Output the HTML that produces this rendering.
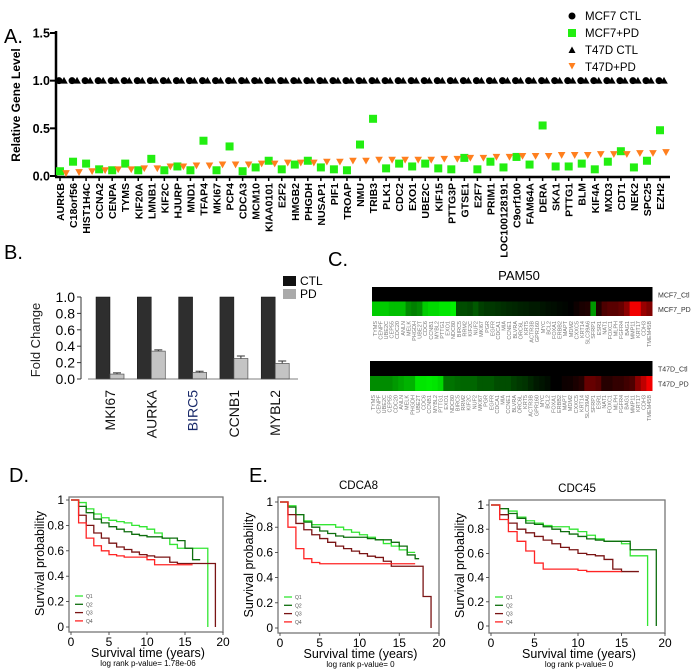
<!DOCTYPE html>
<html><head><meta charset="utf-8">
<style>
html,body{margin:0;padding:0;background:#fff;}
svg{display:block;font-family:"Liberation Sans",Arial,sans-serif;}
</style></head>
<body>
<svg id="fig" width="700" height="671" viewBox="0 0 700 671" xmlns="http://www.w3.org/2000/svg">
<g id="pA"></g>
<g id="pB"></g>
<g id="pC"></g>
<g id="pD"></g>
<g id="pE"></g>
</svg>
<script>
// ---------- Panel A data ----------
const genesA = ["AURKB","C18orf56","HIST1H4C","CCNA2","CENPA","TYMS","KIF20A","LMNB1","KIF2C","HJURP","MND1","TFAP4","MKI67","PCP4","CDCA3","MCM10","KIAA0101","E2F2","HMGB2","PHGDH","NUSAP1","PIF1","TROAP","NMU","TRIB3","PLK1","CDC2","EXO1","UBE2C","KIF15","PTTG3P","GTSE1","E2F7","PRIM1","LOC100128191","C9orf100","FAM64A","DERA","SKA1","PTTG1","BLM","KIF4A","MXD3","CDT1","NEK2","SPC25","EZH2"];
const mcf7Ctl = genesA.map(()=>1.0);
const t47dCtl = genesA.map(()=>1.0);
const mcf7PD = [.05,.15,.13,.07,.06,.13,.06,.18,.06,.10,.06,.37,.06,.31,.05,.09,.16,.07,.12,.16,.09,.07,.06,.33,.60,.08,.13,.10,.13,.08,.07,.19,.07,.15,.09,.20,.12,.53,.10,.10,.13,.07,.15,.26,.09,.16,.48];
const t47dPD = [.03,.04,.05,.06,.07,.07,.08,.08,.10,.10,.11,.11,.12,.12,.12,.13,.13,.14,.14,.14,.15,.15,.16,.16,.17,.17,.17,.17,.17,.18,.18,.19,.19,.20,.20,.21,.21,.21,.22,.22,.22,.23,.23,.23,.24,.24,.25];
const ticksA = [0.0,0.5,1.0,1.5];
// ---------- Panel B data ----------
const genesB = ["MKI67","AURKA","BIRC5","CCNB1","MYBL2"];
const ctlB = [1,1,1,1,1];
const pdB = [0.06,0.34,0.08,0.25,0.19];
const errB = [0.015,0.015,0.015,0.03,0.03];
const ticksB = [0.0,0.2,0.4,0.6,0.8,1.0];
// ---------- Panel C data ----------
const pam50 = ["TYMS","CENPF","UBE2C","CEP55","CDC20","ANLN","MELK","PHGDH","UBE2T","CDC6","CCNB1","MYBL2","PTTG1","EXO1","NDC80","BIRC5","RRM2","KIF2C","NUF2","MKI67","PGR","EGFR","CDCA1","MIA","CCNE1","BLVRA","ORC6L","KRT5","ACTR3B","GPR160","MYC","BCL2","FOXA1","ERBB2","MAPT","MDM2","CXXC5","KRT14","SLC39A6","SFRP1","ESR1","NAT1","FOXC1","MLPH","FGFR4","BAG1","MMP11","KRT17","CDH3","TMEM45B"];
const mcf7CtlHeat = pam50.map(()=>0);
const mcf7PDHeat = [-.8,-.8,-.8,-.75,-.75,-.75,-.55,-.5,-.55,-.8,-.85,-.85,-.9,-.9,-.95,-.3,-.3,-.28,-.35,-.25,-.22,-.22,-.2,-.18,-.16,-.15,-.13,-.12,-.1,-.1,-.08,-.06,-.05,-.03,-.02,0,.05,.1,.12,-.6,.12,.3,.35,.35,.4,.55,.95,.95,.6,.5];
const t47dCtlHeat = pam50.map(()=>0);
const t47dPDHeat = [-.55,-.55,-.55,-.55,-.6,-.65,-.7,-.7,-.9,-.9,-.92,-.9,-.85,-.45,-.45,-.42,-.4,-.4,-.4,-.35,-.35,-.35,-.3,-.3,-.3,-.25,-.22,-.2,-.15,-.1,-.08,-.05,0,0,.05,.06,.1,.15,.4,.4,.35,.15,.15,.2,.2,.25,.3,.55,.75,.95];
// ---------- Survival data ----------
const survTicksY = [0,0.2,0.4,0.6,0.8,1];
const survTicksX = [0,5,10,15,20];
const dQ1t=[0,1,2,3,4,5,6,7,8,9,10,11,12,13,14,15,16,17,18,18];
const dQ1s=[1,.98,.93,.89,.86,.84,.83,.82,.80,.79,.77,.74,.70,.65,.62,.62,.62,.62,.62,0];
const dQ2t=[0,1,2,3,4,5,6,7,8,9,10,11,12,13,14,15,16,17];
const dQ2s=[1,.95,.90,.85,.82,.79,.77,.75,.73,.72,.71,.71,.70,.70,.68,.62,.53,.53];
const dQ3t=[0,1,2,3,4,5,6,7,8,9,10,11,12,13,14,15,16,17,18,19,19];
const dQ3s=[1,.88,.80,.74,.70,.66,.63,.61,.59,.57,.56,.55,.55,.51,.50,.50,.50,.50,.50,.50,0];
const dQ4t=[0,1,2,3,4,5,6,7,8,9,10,11,12,13,14,15,16];
const dQ4s=[1,.82,.70,.64,.60,.57,.56,.55,.55,.55,.53,.49,.49,.49,.49,.49,.49];
const aQ1t=[0,1,2,3,4,5,6,7,8,9,10,11,12,13,14,15,16,17];
const aQ1s=[1,.97,.90,.85,.82,.82,.82,.80,.78,.76,.74,.72,.70,.67,.65,.62,.60,.60];
const aQ2t=[0,1,2,3,4,5,6,7,8,9,10,11,12,13,14,15,16,17,17.5];
const aQ2s=[1,.96,.90,.84,.80,.77,.75,.73,.72,.72,.72,.71,.70,.70,.68,.65,.58,.55,.55];
const aQ3t=[0,1,2,3,4,5,6,7,8,9,10,11,12,13,14,15,16,17,18,19,19];
const aQ3s=[1,.90,.83,.78,.74,.71,.68,.65,.63,.61,.59,.57,.56,.53,.49,.49,.49,.49,.25,.25,0];
const aQ4t=[0,1,2,3,4,5,6,7,8,9,10,11,12,13,14,15,16,17];
const aQ4s=[1,.80,.63,.55,.52,.51,.51,.51,.51,.51,.51,.51,.51,.51,.51,.51,.51,.51];
const bQ1t=[0,1,2,3,4,5,6,7,8,9,10,11,12,13,14,15,16,17,18,18];
const bQ1s=[1,.97,.95,.90,.87,.85,.83,.82,.82,.80,.78,.75,.72,.70,.70,.68,.58,.58,.58,0];
const bQ2t=[0,1,2,3,4,5,6,7,8,9,10,11,12,13,14,15,16,17,18,19,19];
const bQ2s=[1,.97,.93,.89,.85,.84,.82,.80,.78,.76,.74,.72,.71,.70,.70,.70,.63,.63,.63,.63,0];
const bQ3t=[0,1,2,3,4,5,6,7,8,9,10,11,12,13,14,15,16,17];
const bQ3s=[1,.92,.85,.80,.77,.74,.71,.68,.65,.63,.60,.59,.58,.55,.47,.45,.45,.45];
const bQ4t=[0,1,2,3,4,5,6,7,8,9,10,11,12,13,14,15];
const bQ4s=[1,.88,.78,.70,.62,.52,.47,.47,.47,.47,.46,.45,.45,.45,.45,.45];

const NS="http://www.w3.org/2000/svg";
function mk(parent, tag, attrs, text){
  const e=document.createElementNS(NS,tag);
  for(const k in attrs) e.setAttribute(k,attrs[k]);
  if(text!==undefined) e.textContent=text;
  parent.appendChild(e); return e;
}
function label(parent, name, x, y, txt, extra){
  const t=mk(parent,'text',Object.assign({x:x,y:y},extra||{}),txt);
  
  
  return t;
}

// ================= Panel A =================
(function(){
  const g=document.getElementById('pA');
  const x0=60, step=(660-60)/(genesA.length-1);
  const X=i=>x0+i*step;
  const Y=v=>176-v*(176-33)/1.5;
  label(g,'panel-a-letter',4,43,'A.',{'font-size':20});
  const ax=mk(g,'line',{x1:56,y1:31,x2:56,y2:177,stroke:'#000','stroke-width':2.5});
   
  const bx=mk(g,'line',{x1:55,y1:177,x2:670,y2:177,stroke:'#000','stroke-width':2.5});
   
  ticksA.forEach(v=>{
    const tk=mk(g,'line',{x1:50,y1:Y(v),x2:56,y2:Y(v),stroke:'#000','stroke-width':2});
     
    label(g,'y-tick-label',50,Y(v)+4.5,v.toFixed(1),{'font-size':12.5,'font-weight':'bold','text-anchor':'end'});
  });
  label(g,'y-axis-title',0,0,'Relative Gene Level',{'font-size':12,'font-weight':'bold','text-anchor':'middle',transform:'translate(20,105) rotate(-90)'});
  genesA.forEach((gn,i)=>{
    const tk=mk(g,'line',{x1:X(i),y1:177,x2:X(i),y2:181,stroke:'#000','stroke-width':1.5});
     
    label(g,'gene-label',0,0,gn,{'font-size':10.5,'font-weight':'bold','text-anchor':'end',transform:`translate(${X(i)+4},183) rotate(-90)`});
  });
  mcf7Ctl.forEach((v,i)=>{
    const c=mk(g,'circle',{cx:X(i)-1,cy:Y(v),r:3.5,fill:'#000'});
     
  });
  t47dCtl.forEach((v,i)=>{
    const x=X(i)+4,y=Y(v);
    const p=mk(g,'polygon',{points:`${x-3.8},${y+3} ${x+3.8},${y+3} ${x},${y-3.8}`,fill:'#000'});
     
  });
  mcf7PD.forEach((v,i)=>{
    const r=mk(g,'rect',{x:X(i)-4,y:Y(v)-4,width:8,height:8,fill:'#22ee11'});
     
  });
  t47dPD.forEach((v,i)=>{
    const x=X(i)+6,y=Y(v);
    const p=mk(g,'polygon',{points:`${x-3.8},${y-3} ${x+3.8},${y-3} ${x},${y+3.8}`,fill:'#ff7f1e'});
     
  });
  const lg=mk(g,'g',{});
   
  let c=mk(lg,'circle',{cx:572,cy:16,r:3.5,fill:'#000'});  
  label(lg,'legend-mcf7-ctl',585,20,'MCF7 CTL',{'font-size':11.5});
  c=mk(lg,'rect',{x:568,y:29,width:8,height:8,fill:'#22ee11'});  
  label(lg,'legend-mcf7-pd',585,37,'MCF7+PD',{'font-size':11.5});
  c=mk(lg,'polygon',{points:'568.5,53 575.5,53 572,46.5',fill:'#000'});  
  label(lg,'legend-t47d-ctl',585,54,'T47D CTL',{'font-size':11.5});
  c=mk(lg,'polygon',{points:'568.5,63 575.5,63 572,69.5',fill:'#ff7f1e'});  
  label(lg,'legend-t47d-pd',585,71,'T47D+PD',{'font-size':11.5});
})();

// ================= Panel B =================
(function(){
  const g=document.getElementById('pB');
  const Y=v=>379-v*(379-297);
  const gx=i=>96+i*41.3;
  label(g,'panel-b-letter',4,259,'B.',{'font-size':20});
  const ax=mk(g,'line',{x1:81,y1:Y(1),x2:81,y2:Y(0),stroke:'#333','stroke-width':1});
   
  ticksB.forEach(v=>{
    const tk=mk(g,'line',{x1:77,y1:Y(v),x2:81,y2:Y(v),stroke:'#333','stroke-width':1});
     
    label(g,'y-tick-label',75,Y(v)+5,v.toFixed(1),{'font-size':14,'text-anchor':'end'});
  });
  label(g,'y-axis-title',0,0,'Fold Change',{'font-size':13,'text-anchor':'middle',fill:'#222',transform:'translate(40,340) rotate(-90)'});
  genesB.forEach((gn,i)=>{
    const x=gx(i);
    const b=mk(g,'rect',{x:x,y:Y(ctlB[i]),width:14,height:Y(0)-Y(ctlB[i]),fill:'#2e2e2e',stroke:'#111','stroke-width':0.5});
     
    const p=mk(g,'rect',{x:x+14,y:Y(pdB[i]),width:14,height:Y(0)-Y(pdB[i]),fill:'#c4c4c4',stroke:'#555','stroke-width':0.7});
     
    const ex=x+21, et=Y(pdB[i]+errB[i]);
    const e=mk(g,'path',{d:`M${ex},${Y(pdB[i])}V${et}M${ex-4},${et}H${ex+4}`,stroke:'#333','stroke-width':1,fill:'none'});
     
    label(g,'x-tick-label',0,0,gn,{'font-size':14,'text-anchor':'end',fill:i==2?'#1a2a6a':'#111',transform:`translate(${x+19},390) rotate(-90)`});
  });
  const bl=mk(g,'line',{x1:88,y1:Y(0),x2:298,y2:Y(0),stroke:'#555','stroke-width':0.7});
   
  let r=mk(g,'rect',{x:283,y:276,width:13,height:10,fill:'#111'});  
  label(g,'legend-ctl',300,285,'CTL',{'font-size':12});
  r=mk(g,'rect',{x:283,y:289,width:13,height:10,fill:'#aaa'});  
  label(g,'legend-pd',300,298,'PD',{'font-size':12});
})();

// ================= Panel C =================
(function(){
  const g=document.getElementById('pC');
  label(g,'panel-c-letter',328,266,'C.',{'font-size':20});
  label(g,'heatmap-title',519,280,'PAM50',{'font-size':13,'text-anchor':'middle'});
  function col(v){
    if(v<0) return `rgb(0,${Math.round(-v*255)},0)`;
    return `rgb(${Math.round(v*255)},0,0)`;
  }
  function heat(rows,names,x0,x1,y0,rh,lblY){
    const cw=(x1-x0)/pam50.length;
    rows.forEach((row,ri)=>{
      row.forEach((v,ci)=>{
        const c=mk(g,'rect',{x:x0+ci*cw,y:y0+ri*rh,width:cw+0.5,height:rh,fill:col(v)});
         
      });
      label(g,'heatmap-row-label',x1+6,y0+ri*rh+rh/2+3,names[ri],{'font-size':7,fill:'#333'});
    });
    pam50.forEach((gn,ci)=>{
      label(g,'heatmap-gene-label',0,0,gn,{'font-size':5.5,fill:'#777','text-anchor':'end',transform:`translate(${x0+ci*cw+cw/2+2},${lblY}) rotate(-90)`});
    });
  }
  heat([mcf7CtlHeat,mcf7PDHeat],['MCF7_Ctl','MCF7_PD'],372,652,287,14.5,321);
  heat([t47dCtlHeat,t47dPDHeat],['T47D_Ctl','T47D_PD'],370,652,361,15,395);
})();

// ================= Survival panels =================
function survPlot(g, name, box, axX, axY, curves, title, pText){
  const [x0,x20,y1,y0]=[axX[0],axX[1],axY[0],axY[1]];
  const X=t=>x0+t*(x20-x0)/20;
  const Y=s=>y0-s*(y0-y1);
  const fr=mk(g,'rect',{x:box[0],y:box[1],width:box[2]-box[0],height:box[3]-box[1],fill:'none',stroke:'#777','stroke-width':1.3});
   
  if(title) label(g,name+'-title',(box[0]+box[2])/2,title[1],title[0],{'font-size':11.5,'text-anchor':'middle'});
  survTicksY.forEach(v=>{
    const tk=mk(g,'line',{x1:box[0]-3,y1:Y(v),x2:box[0],y2:Y(v),stroke:'#333','stroke-width':0.8});
     
    label(g,'y-tick-label',box[0]-5,Y(v)+4,String(v),{'font-size':12,'text-anchor':'end'});
  });
  survTicksX.forEach(v=>{
    const tk=mk(g,'line',{x1:X(v),y1:box[3],x2:X(v),y2:box[3]+3,stroke:'#333','stroke-width':0.8});
     
    label(g,'x-tick-label',X(v),box[3]+14,String(v),{'font-size':12,'text-anchor':'middle'});
  });
  label(g,'y-axis-title',0,0,'Survival probability',{'font-size':12.5,'text-anchor':'middle',transform:`translate(${box[0]-25},${(y0+y1)/2}) rotate(-90)`});
  label(g,'x-axis-title',(box[0]+box[2])/2+2,box[3]+25,'Survival time (years)',{'font-size':12.5,'text-anchor':'middle'});
  label(g,'p-value',(box[0]+box[2])/2+2,box[3]+34,pText,{'font-size':8,'text-anchor':'middle'});
  const colors=['#33e633','#0e6e0e','#7a1414','#ff2424'];
  const qn=['Q1','Q2','Q3','Q4'];
  curves.forEach((cv,k)=>{
    const [ts,ss]=cv;
    let d=`M${X(ts[0])},${Y(ss[0])}`;
    for(let i=1;i<ts.length;i++) d+=`H${X(ts[i])}V${Y(ss[i])}`;
    const p=mk(g,'path',{d:d,stroke:colors[k],'stroke-width':1.3,fill:'none'});
     
    const ly=box[3]-36+k*8.3;
    const l=mk(g,'line',{x1:box[0]+6,y1:ly,x2:box[0]+14,y2:ly,stroke:colors[k],'stroke-width':1.3});
     
    label(g,'legend-label',box[0]+17,ly+2,qn[k],{'font-size':5,fill:'#555'});
  });
}
(function(){
  const g=document.getElementById('pD');
  label(g,'panel-d-letter',9,482,'D.',{'font-size':20});
  survPlot(g,'km-d',[69,497,223,632],[71,223],[500,627],
    [[dQ1t,dQ1s],[dQ2t,dQ2s],[dQ3t,dQ3s],[dQ4t,dQ4s]],null,'log rank p-value= 1.78e-06');
})();
(function(){
  const g=document.getElementById('pE');
  label(g,'panel-e-letter',249,482,'E.',{'font-size':20});
  survPlot(g,'km-cdca8',[278,497,439,633],[280,439],[502,628],
    [[aQ1t,aQ1s],[aQ2t,aQ2s],[aQ3t,aQ3s],[aQ4t,aQ4s]],['CDCA8',489],'log rank p-value= 0');
  survPlot(g,'km-cdc45',[489,500,665,633],[491,665],[505,626],
    [[bQ1t,bQ1s],[bQ2t,bQ2s],[bQ3t,bQ3s],[bQ4t,bQ4s]],['CDC45',492],'log rank p-value= 0');
})();
</script>
</body></html>
